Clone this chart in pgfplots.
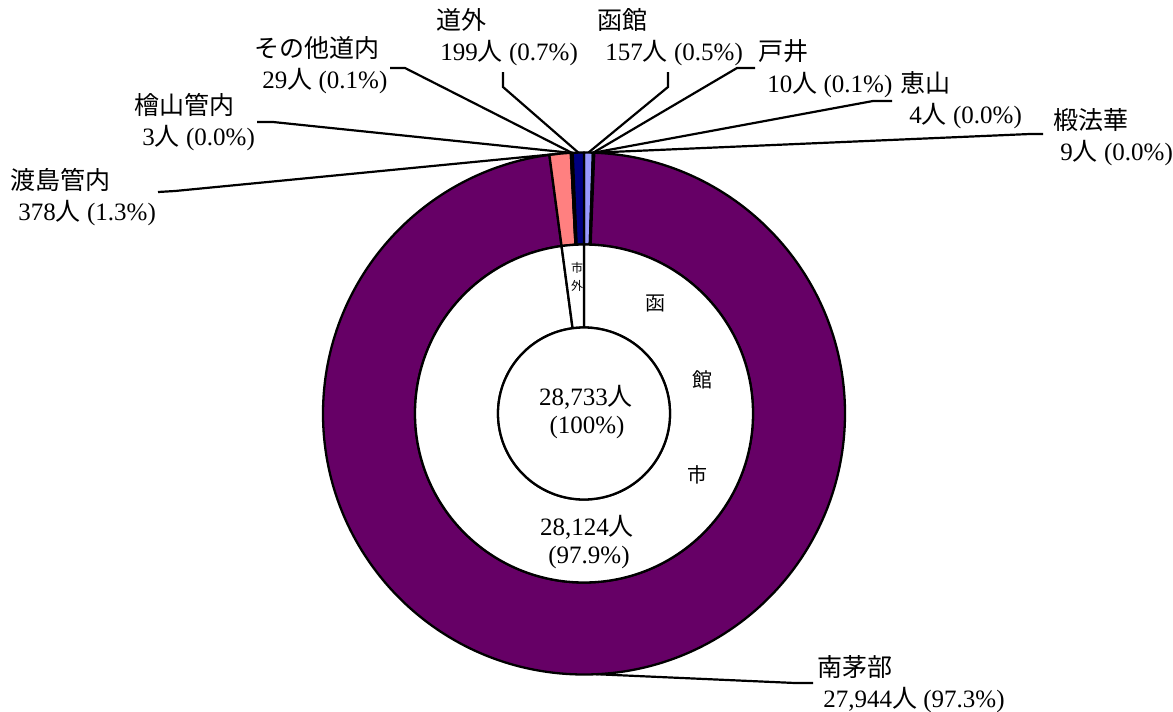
\documentclass[border=0pt]{standalone}
\usepackage{pgfplots}
\pgfplotsset{compat=1.18}
\usepackage{pgfplotstable}
\usepackage{fontspec}
\setmainfont{Liberation Serif}
\newfontfamily\jp{Noto Sans CJK JP}

\definecolor{s1}{HTML}{9999FF}
\definecolor{s2}{HTML}{993366}
\definecolor{s3}{HTML}{FFFFCC}
\definecolor{s4}{HTML}{CCFFFF}
\definecolor{s5}{HTML}{660066}
\definecolor{s6}{HTML}{FF8080}
\definecolor{s7}{HTML}{0066CC}
\definecolor{s8}{HTML}{CCCCFF}
\definecolor{s9}{HTML}{000080}

% outer ring, clockwise from 12 o'clock
% 函館 戸井 恵山 椴法華 南茅部 渡島管内 檜山管内 その他道内 道外
\pgfplotstableread{
value col
157   s1
10    s2
4     s3
9     s4
27944 s5
378   s6
3     s7
29    s8
199   s9
}\outerring
% inner ring: 函館市, 市外
\pgfplotstableread{
value col
28124 white
609   white
}\innerring

\newcommand\ren{{\jp 人}}

% #1 table, #2 inner radius, #3 outer radius, #4 name prefix of mid points
\newcommand\ring[4]{%
  \pgfplotstablegetrowsof{#1}%
  \pgfmathtruncatemacro\nr{\pgfplotsretval-1}%
  \def\cum{0}%
  \pgfplotsforeachungrouped \i in {0,...,\nr}{%
    \pgfplotstablegetelem{\i}{value}\of#1\let\sval\pgfplotsretval
    \pgfplotstablegetelem{\i}{col}\of#1\let\scol\pgfplotsretval
    \edef\angA{\fpeval{90-360*\cum/\total}}%
    \edef\cum{\fpeval{\cum+\sval}}%
    \edef\angB{\fpeval{90-360*\cum/\total}}%
    \edef\angM{\fpeval{(\angA+\angB)/2}}%
    \filldraw[fill=\scol, draw=black, line width=1.15pt, line join=round]
      ([shift={(C)}]\angA:#3) arc[start angle=\angA, end angle=\angB, radius=#3]
      -- ([shift={(C)}]\angB:#2) arc[start angle=\angB, end angle=\angA, radius=#2]
      -- cycle;
    \coordinate (#4\i) at ([shift={(C)}]\angM:#3);
  }%
}

% #1 x, #2 y of first line (centre), #3 indent of 2nd line, #4 name, #5 value
\newcommand\lab[5]{%
  \node[anchor=base west, inner sep=0pt] at (axis cs:#1,\fpeval{#2+9}) {\jp #4};
  \node[anchor=base west, inner sep=0pt] at (axis cs:\fpeval{#1+#3},\fpeval{#2+40}) {#5};
}

\begin{document}
\begin{tikzpicture}[font=\fontsize{12.5}{15}\selectfont]
\begin{axis}[
  hide axis,
  x=0.5pt, y=0.5pt,
  xmin=0, xmax=1173, ymin=0, ymax=712,
  y dir=reverse,
  clip=false,
  anchor=south west, at={(0,0)},
]
\pgfplotsextra{
  \coordinate (C) at (axis cs:584,413.5);
  % total from the outer ring
  \def\total{0}%
  \pgfplotstablegetrowsof{\outerring}%
  \pgfmathtruncatemacro\nr{\pgfplotsretval-1}%
  \pgfplotsforeachungrouped \i in {0,...,\nr}{%
    \pgfplotstablegetelem{\i}{value}\of\outerring
    \edef\total{\fpeval{\total+\pgfplotsretval}}%
  }%
  \ring{\outerring}{84.5pt}{130.5pt}{o}
  \ring{\innerring}{43pt}{84.5pt}{m}
  % centre: the total, 100%
  \filldraw[fill=white, draw=black, line width=1.15pt] (C) circle[radius=43pt];

  % leader lines
  \begin{scope}[line width=1.1pt]
    \draw (axis cs:158,192) -- (axis cs:175,191) -- (o5);
    \draw (axis cs:257,122) -- (axis cs:273,122) -- (o6);
    \draw (axis cs:390,68) -- (axis cs:405,68) -- (o7);
    \draw (axis cs:503,72) -- (axis cs:503,87) -- (o8);
    \draw (axis cs:668,72) -- (axis cs:668,87) -- (o0);
    \draw (axis cs:755,68) -- (axis cs:737,68) -- (o1);
    \draw (axis cs:892,101) -- (axis cs:873,101) -- (o2);
    \draw (axis cs:1043,134) -- (axis cs:1030,134) -- (o3);
    \draw (axis cs:813,683) -- (axis cs:795,683) -- (o4);
  \end{scope}

  % labels
  \lab{10}{180}{8}{渡島管内}{378\ren\ (1.3\%)}
  \lab{134}{105}{8}{檜山管内}{3\ren\ (0.0\%)}
  \lab{254}{48}{8}{その他道内}{29\ren\ (0.1\%)}
  \lab{436}{20}{4}{道外}{199\ren\ (0.7\%)}
  \lab{597}{20}{8}{函館}{157\ren\ (0.5\%)}
  \lab{758}{52}{9}{戸井}{10\ren\ (0.1\%)}
  \lab{900}{83}{9}{恵山}{4\ren\ (0.0\%)}
  \lab{1053}{120}{7}{椴法華}{9\ren\ (0.0\%)}
  \lab{817}{667}{6}{南茅部}{27,944\ren\ (97.3\%)}

  \node at (axis cs:586,397) {28,733\ren};
  \node at (axis cs:587,427) {(100\%)};
  \node at (axis cs:587,527) {28,124\ren};
  \node at (axis cs:589,557) {(97.9\%)};
  \node[font=\jp] at (axis cs:655,303) {函};
  \node[font=\jp] at (axis cs:702,380) {館};
  \node[font=\jp] at (axis cs:697,475) {市};
  \node[font=\jp\fontsize{6}{7}\selectfont, inner sep=0pt] at (axis cs:577,268) {市};
  \node[font=\jp\fontsize{6}{7}\selectfont, inner sep=0pt] at (axis cs:577,286) {外};
}
\end{axis}
\pgfresetboundingbox
\path (0,0) rectangle (586.5pt,356pt);
\end{tikzpicture}
\end{document}
